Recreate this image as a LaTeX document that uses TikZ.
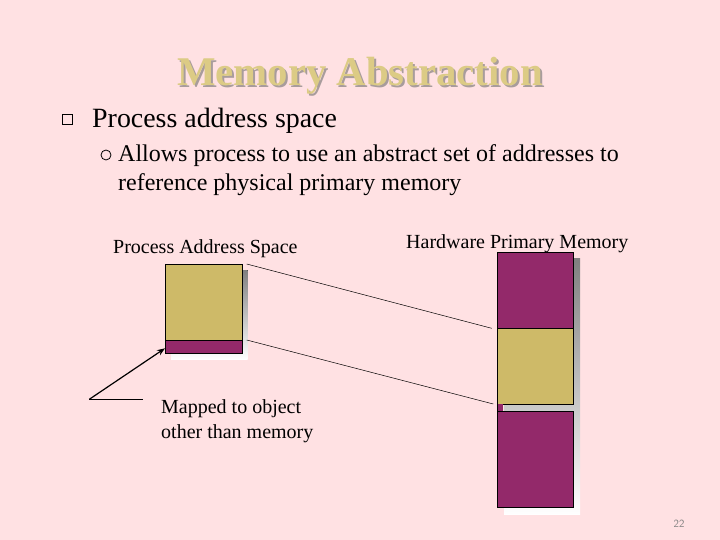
\documentclass[tikz,border=0pt]{standalone}
\usepackage{fontspec}
\setmainfont{Liberation Serif}
\usetikzlibrary{arrows.meta}
\definecolor{bgpink}{HTML}{FFE1E3}
\definecolor{plum}{HTML}{93296A}
\definecolor{khaki}{HTML}{CEBA68}
\definecolor{shade}{HTML}{CBC3D2}
\definecolor{titlecol}{HTML}{DCCB85}
\definecolor{titleshadow}{HTML}{A89C9C}
\begin{document}
\begin{tikzpicture}[x=1pt,y=-1pt,
  txt/.style={anchor=base west,inner sep=0pt,text=black},
  blk/.style={draw=black,line width=0.6pt},
  thin/.style={line width=0.5pt}]
\fill[bgpink] (0,0) rectangle (720,540);
\useasboundingbox (0,0) rectangle (720,540);
% title
\node[anchor=base,inner sep=0pt,text=titlecol,font=\bfseries\fontsize{40.8}{44}\selectfont] (title) at (360,86)
  {\rlap{\kern2pt\raisebox{-2pt}{\textcolor{titleshadow}{Memory Abstraction}}}Memory Abstraction};
% bullets
\node[draw=black,line width=0.8pt,minimum size=10pt,inner sep=0pt] (b1) at (67.5,119) {};
\node[txt,font=\fontsize{27.9}{32}\selectfont] (t1) at (92,128) {Process address space};
\node[draw=black,circle,line width=0.8pt,minimum size=10pt,inner sep=0pt] (b2) at (106,155) {};
\node[txt,font=\fontsize{24}{28}\selectfont] (t2) at (118,162) {Allows process to use an abstract set of addresses to};
\node[txt,font=\fontsize{24}{28}\selectfont] (t3) at (118,191) {reference physical primary memory};
% labels
\node[txt,font=\fontsize{20}{24}\selectfont] (pas) at (113,254) {Process Address Space};
\node[txt,font=\fontsize{20}{24}\selectfont] (hpm) at (406,248) {Hardware Primary Memory};
\node[txt,font=\fontsize{20}{24}\selectfont] (m1) at (161,413) {Mapped to object};
\node[txt,font=\fontsize{20}{24}\selectfont] (m2) at (161,438) {other than memory};
% process box
\fill[shade] (171,270) rectangle (247.7,359.3);
\node[blk,fill=khaki,minimum width=76.7pt,minimum height=75.7pt,inner sep=0pt,anchor=north west] (pk) at (165,264.3) {};
\node[blk,fill=plum,minimum width=76.7pt,minimum height=13.3pt,inner sep=0pt,anchor=north west] (pp) at (165,340) {};
% memory
\fill[shade] (504,258) rectangle (580,514);
\node[blk,fill=plum,minimum width=76pt,minimum height=76.6pt,inner sep=0pt,anchor=north west] (m1b) at (497.3,251.7) {};
\node[blk,fill=khaki,minimum width=76pt,minimum height=75.7pt,inner sep=0pt,anchor=north west] (m2b) at (497.3,328.3) {};
\fill[plum] (497.3,404) rectangle (503,411);
\draw[line width=0.6pt] (497.3,404) -- (497.3,411);
\node[blk,fill=plum,minimum width=76pt,minimum height=96.3pt,inner sep=0pt,anchor=north west] (m3b) at (497.3,411) {};
% mapping lines
\coordinate (s1) at (246.7,264);
\coordinate (e1) at (491.7,328.3);
\coordinate (s2) at (246.7,340);
\coordinate (e2) at (493.3,404);
\draw[thin] (s1) -- (e1);
\draw[thin] (s2) -- (e2);
% arrow
\coordinate (a0) at (89.3,399.3);
\coordinate (a1) at (142.7,399.3);
\coordinate (tip) at (165,348.3);
\draw[line width=1.2pt] (a1) -- (a0);
\draw[line width=1.2pt,-{Stealth[length=8pt,width=6pt]}] (a0) -- (tip);
% page number
\node[anchor=base,inner sep=0pt,text=gray,font=\sffamily\fontsize{11}{13}\selectfont] (pg) at (679,527) {22};
\end{tikzpicture}
\end{document}
